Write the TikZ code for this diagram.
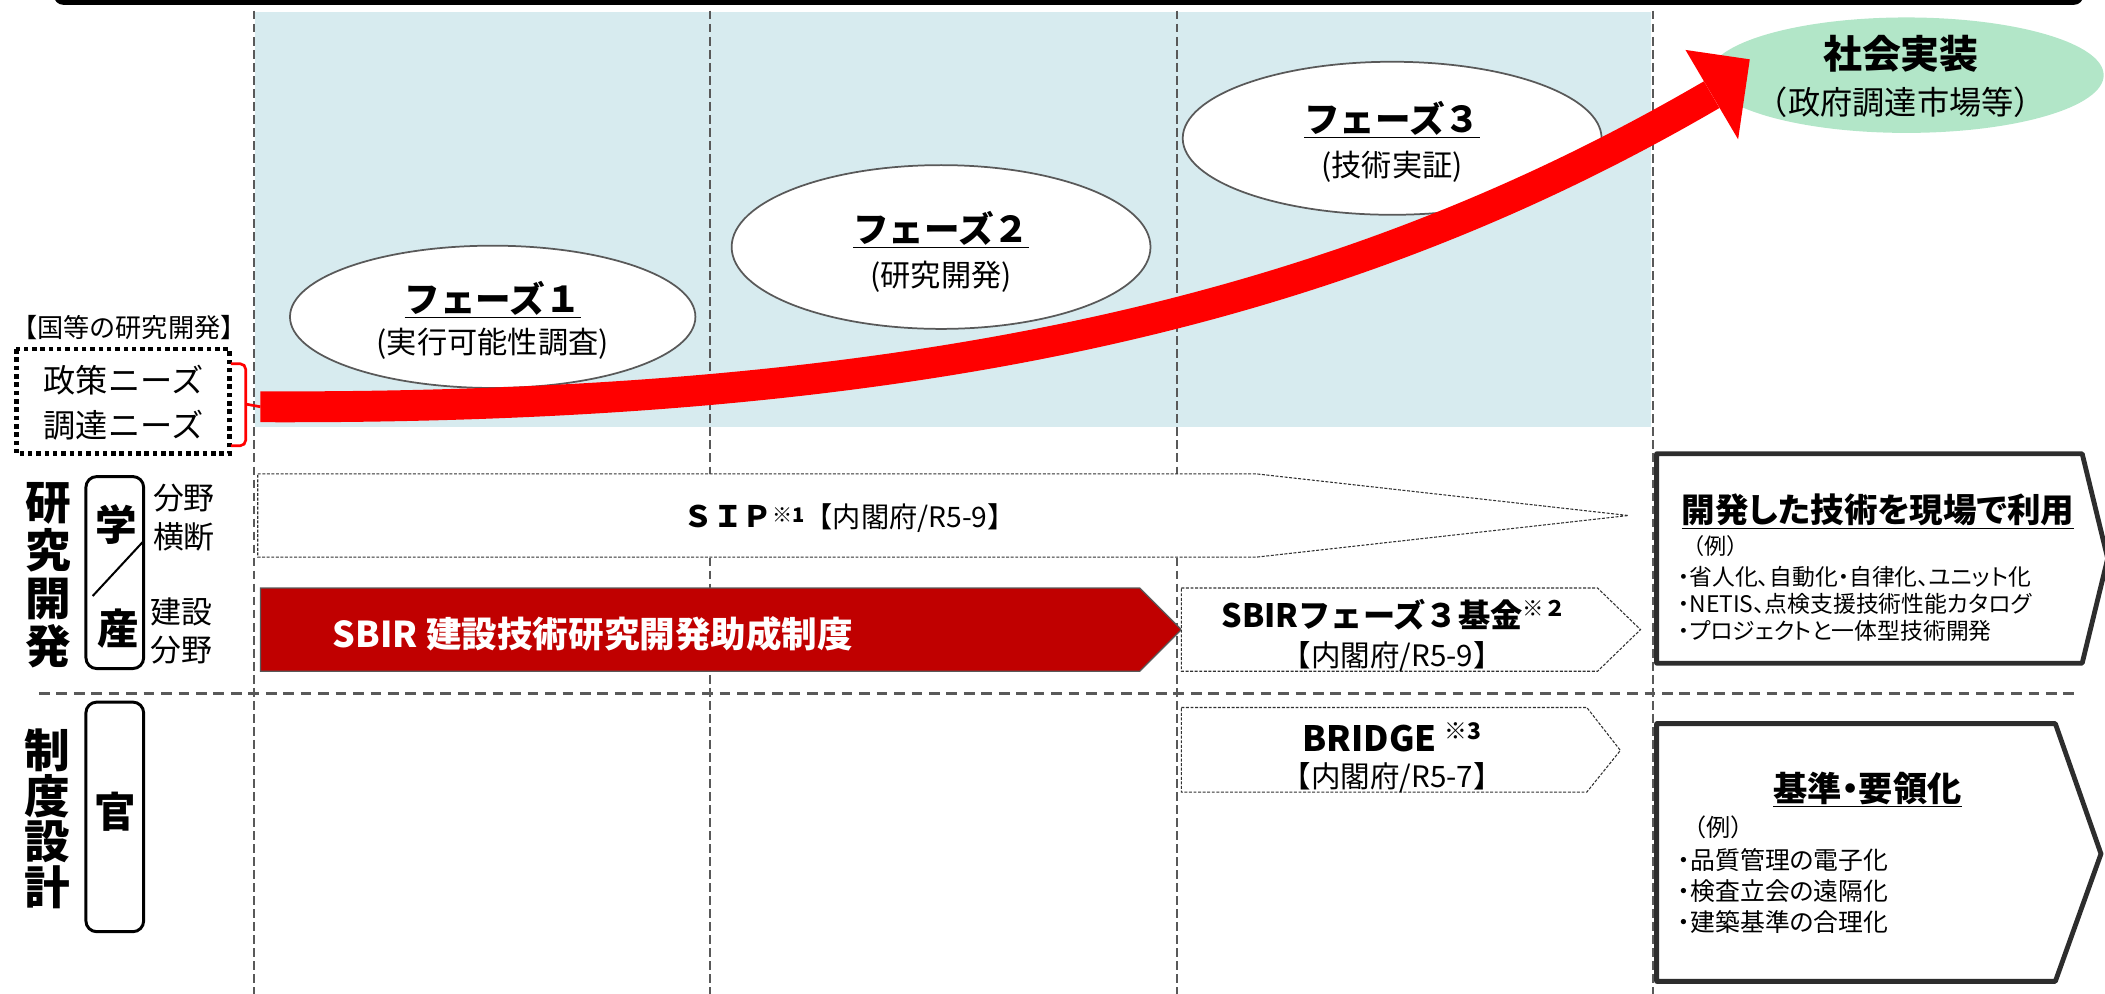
\documentclass[tikz,border=0pt]{standalone}
\usepackage{fontspec}
\setmainfont{Noto Sans CJK JP}
\newfontfamily\jpp{Noto Sans CJK JP}[RawFeature=+palt]
\usetikzlibrary{shapes.geometric}
\definecolor{bluebg}{RGB}{215,235,239}
\definecolor{greenbg}{RGB}{178,230,200}
\definecolor{sbirred}{RGB}{192,0,0}
\definecolor{gridc}{RGB}{89,89,89}
\definecolor{edgec}{RGB}{50,50,50}
\definecolor{panelc}{RGB}{45,45,45}
\newcommand{\fsz}[1]{\fontsize{#1}{#1}\selectfont}
\tikzset{
  txt/.style={inner sep=0pt, outer sep=0pt},
  gridline/.style={draw=gridc, line width=1.5, dash pattern=on 6.5 off 3.2},
  sepline/.style={draw=gridc, line width=2, dash pattern=on 8 off 5},
  phase/.style={ellipse, draw=gridc, line width=1.3, fill=white, inner sep=0pt},
  finebox/.style={draw=edgec, line width=0.8, dash pattern=on 2.2 off 1.2, fill=white},
  roundbox/.style={draw=black, line width=2.2, rounded corners=8},
  panelbox/.style={draw=panelc, line width=3.6, fill=white, line join=round},
}
\begin{document}
\begin{tikzpicture}[x=1pt, y={(0pt,-1pt)}]
\useasboundingbox (0,0) rectangle (1568,740.4);
\clip (0,0) rectangle (1568,740.4);
% background
\fill[bluebg] (190,9) rectangle (1230,318);
% grid lines
\coordinate (g1t) at (189,8);   \coordinate (g1b) at (189,741);
\coordinate (g2t) at (529,8);   \coordinate (g2b) at (529,741);
\coordinate (g3t) at (877,8);   \coordinate (g3b) at (877,741);
\coordinate (g4t) at (1231,8);  \coordinate (g4b) at (1231,741);
\draw[gridline] (g1t) -- (g1b);
\draw[gridline] (g2t) -- (g2b);
\draw[gridline] (g3t) -- (g3b);
\draw[gridline] (g4t) -- (g4b);
\coordinate (sepl) at (29,516.5); \coordinate (sepr) at (1548,516.5);
\draw[sepline] (sepl) -- (sepr);
% top bar
\draw[line width=3.5, rounded corners=5] (42,-20) -- (42,1.8) -- (1550,1.8) -- (1550,-20);

% phases
\node[phase, minimum width=302, minimum height=106] (p1) at (367,236) {};
\node[txt] (p1t) at (367,223) {\bfseries\fsz{26.5}\underline{フェーズ１}};
\node[txt] (p1s) at (367,256) {\fsz{22.5}(実行可能性調査)};
\node[phase, minimum width=312, minimum height=122] (p2) at (701,184) {};
\node[txt] (p2t) at (701,171) {\bfseries\fsz{26.5}\underline{フェーズ２}};
\node[txt] (p2s) at (701,206) {\fsz{22.5}(研究開発)};
\node[phase, minimum width=312, minimum height=114] (p3) at (1037,103) {};
\node[txt] (p3t) at (1037,89) {\bfseries\fsz{26.5}\underline{フェーズ３}};
\node[txt] (p3s) at (1037,124) {\fsz{22.5}(技術実証)};
\node[ellipse, fill=greenbg, minimum width=294, minimum height=86, inner sep=0pt] (goal) at (1420,56) {};
\node[txt] (goalt) at (1416,40) {\bfseries\fsz{29}社会実装};
\node[txt] (goals) at (1416,76) {\fsz{24}（政府調達市場等）};

% red arrow
\coordinate (arrowstart) at (194,303);
\coordinate (arrowend) at (1275,70.5);
\draw[red, line width=23] (arrowstart) .. controls (700,305) and (1010,225) .. (arrowend);
\coordinate (headA) at (1255.5,37.2);
\coordinate (headB) at (1303.4,44.2);
\coordinate (headC) at (1294.7,103.8);
\fill[red] (headA) -- (headB) -- (headC) -- cycle;

% left needs
\node[txt] (kuni) at (96,244) {\fsz{19.5}【国等の研究開発】};
\draw[line width=3.6, dash pattern=on 3.4 off 2.8] (12,260) rectangle (171,338);
\node[txt] (needs1) at (92,283) {\fsz{24}政策ニーズ};
\node[txt] (needs2) at (92,317) {\fsz{24}調達ニーズ};
\draw[red, line width=2, rounded corners=4] (172,271) -- (183,271) -- (183,332) -- (172,332);
\draw[red, line width=2] (183,301) -- (arrowstart);

% program arrows
\draw[finebox] (192,353) -- (936,353) -- (1213,384) -- (936,415) -- (192,415) -- cycle;
\node[txt] (sip) at (633,386) {{\bfseries\fsz{22}ＳＩＰ}{\bfseries\fsz{15}\raisebox{4pt}{※1}}{\fsz{21}【内閣府/R5-9】}};
\draw[fill=sbirred, draw=gridc, line width=1] (194,438) -- (849,438) -- (880,469) -- (849,500) -- (194,500) -- cycle;
\node[txt, anchor=west, text=white] (sbir) at (248,472) {\bfseries\fsz{26.5}SBIR 建設技術研究開発助成制度};
\draw[finebox] (880,438) -- (1190,438) -- (1222,469) -- (1190,500) -- (880,500) -- cycle;
\node[txt] (sbir3) at (1038,458) {{\bfseries\fsz{24}SBIRフェーズ３基金}{\bfseries\fsz{16}\raisebox{8pt}{※２}}};
\node[txt] (sbir3s) at (1037,489) {\fsz{22}【内閣府/R5-9】};
\draw[finebox] (880,527) -- (1182,527) -- (1207,559) -- (1182,590) -- (880,590) -- cycle;
\node[txt] (bridge) at (1037,549) {{\bfseries\fsz{26}BRIDGE }{\bfseries\fsz{17}\raisebox{9pt}{※3}}};
\node[txt] (bridges) at (1037,579) {\fsz{22}【内閣府/R5-7】};

% left side labels
\node[txt, align=center, font=\bfseries\fontsize{34}{35.7}\selectfont] (kenkyu) at (36,428.5) {研\\究\\開\\発};
\node[txt, align=center, font=\bfseries\fontsize{34}{34}\selectfont] (seido) at (35,610) {制\\度\\設\\計};
\draw[roundbox] (64,355) rectangle (107,498);
\draw[line width=1.5] (107,403) -- (69,444);
\node[txt] (gaku) at (87,391) {\bfseries\fsz{31}学};
\node[txt] (san) at (88,468) {\bfseries\fsz{31}産};
\draw[roundbox] (64,523) rectangle (107,694);
\node[txt] (kan) at (86,605) {\bfseries\fsz{31}官};
\node[txt, align=center, font=\fontsize{23}{29}\selectfont] (bunya1) at (137,385.5) {分野\\横断};
\node[txt, align=center, font=\fontsize{23}{28}\selectfont] (bunya2) at (135,470) {建設\\分野};

% right panels
\draw[panelbox] (1234,338) -- (1551,338) -- (1570,416) -- (1551,494) -- (1234,494) -- cycle;
\node[txt] (use) at (1399,381) {\jpp\bfseries\fsz{25}\underline{開発した技術を現場で利用}};
\node[txt, anchor=west] (ex1) at (1253,407) {\fsz{16.5}（例）};
\node[txt, anchor=west] (u1) at (1250,430) {\jpp\fsz{17}・省人化、自動化・自律化、ユニット化};
\node[txt, anchor=west] (u2) at (1250,450) {\jpp\fsz{17}・NETIS、点検支援技術性能カタログ};
\node[txt, anchor=west] (u3) at (1250,470) {\jpp\fsz{17}・プロジェクトと一体型技術開発};
\draw[panelbox] (1234,539) -- (1531,539) -- (1565,636) -- (1531,731) -- (1234,731) -- cycle;
\node[txt] (std) at (1391,588) {\jpp\bfseries\fsz{25.5}\underline{基準・要領化}};
\node[txt, anchor=west] (ex2) at (1253,616) {\fsz{18}（例）};
\node[txt, anchor=west] (s1) at (1250,641) {\jpp\fsz{18.5}・品質管理の電子化};
\node[txt, anchor=west] (s2) at (1250,664) {\jpp\fsz{18.5}・検査立会の遠隔化};
\node[txt, anchor=west] (s3) at (1250,687) {\jpp\fsz{18.5}・建築基準の合理化};
\end{tikzpicture}
\end{document}
